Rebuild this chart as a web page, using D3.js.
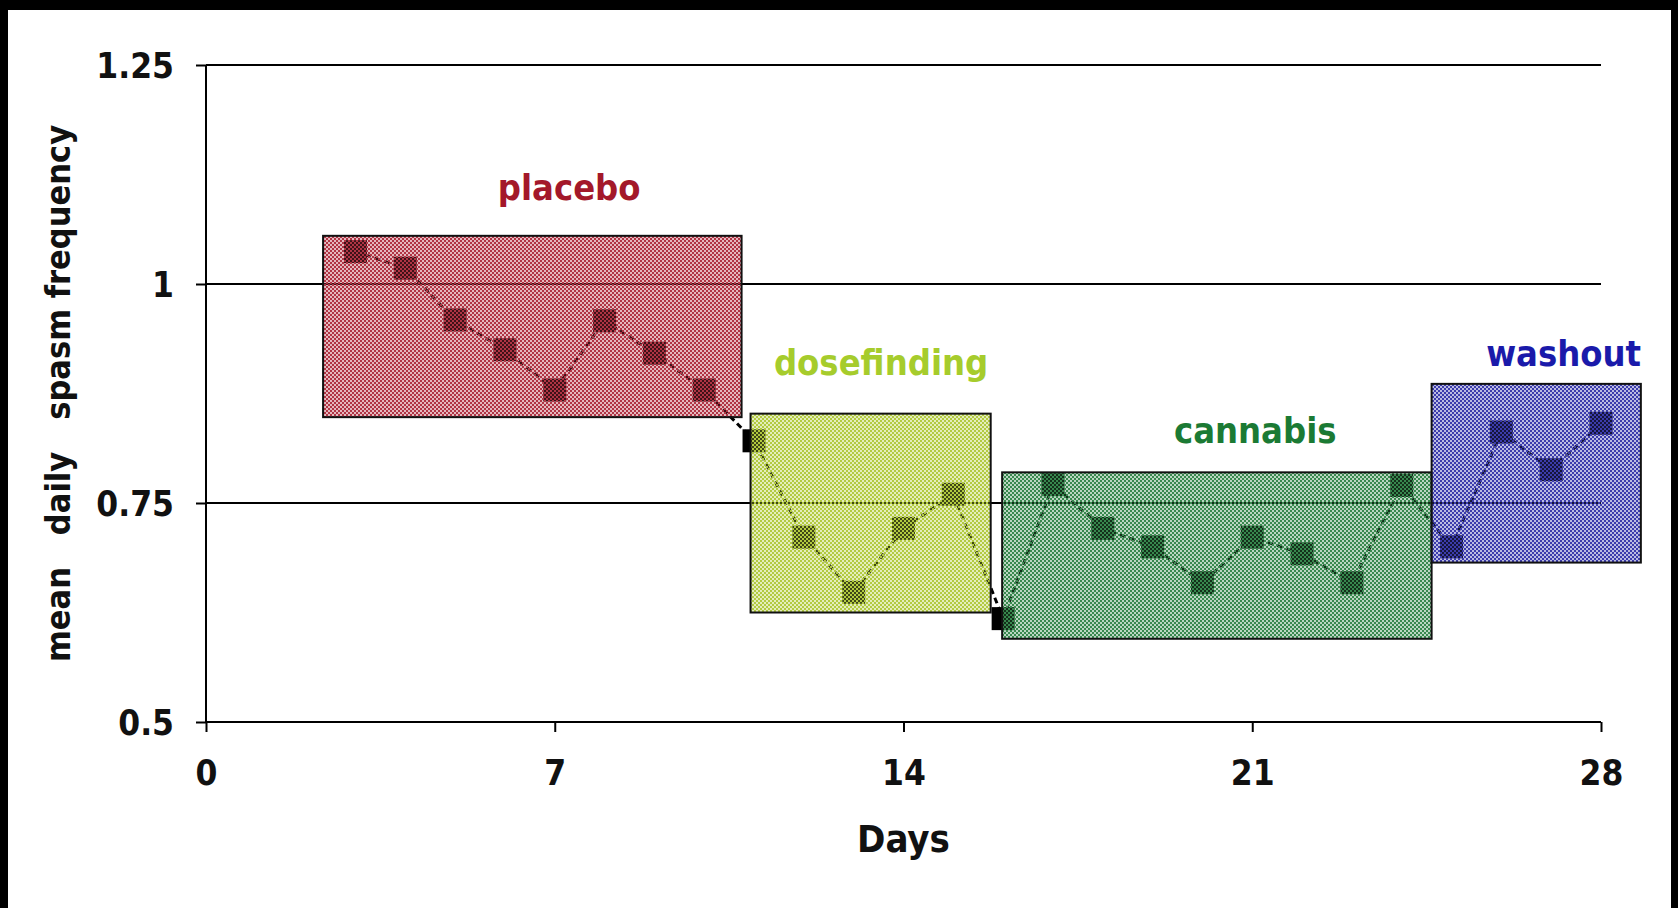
<!DOCTYPE html>
<html>
<head>
<meta charset="utf-8">
<script src="https://cdn.jsdelivr.net/npm/d3@7"></script>
<style>
  html, body { margin: 0; padding: 0; background: #000; }
  svg { display: block; }
  text { font-family: "Liberation Sans Narrow", "DejaVu Sans Condensed", "Open Sans", sans-serif; }
</style>
</head>
<body>
<svg id="chart" width="1678" height="908"></svg>
<script>
// daily means, days 3..28
const days = [3, 4, 5, 6, 7, 8, 9, 10, 11, 12, 13, 14, 15, 16, 17, 18, 19, 20, 21, 22, 23, 24, 25, 26, 27, 28];
const spasms = [1.037, 1.018, 0.959, 0.925, 0.879, 0.958, 0.921, 0.879, 0.821, 0.711, 0.648, 0.721, 0.760,
                0.618, 0.771, 0.721, 0.700, 0.659, 0.711, 0.692, 0.659, 0.770, 0.700, 0.831, 0.788, 0.841];

// treatment phases
const phaseNames = ["placebo", "dosefinding", "cannabis", "washout"];
const phaseStart = [2.35, 10.93, 15.98, 24.6];
const phaseEnd = [10.75, 15.75, 24.6, 28.8];
const phaseLow = [0.848, 0.625, 0.595, 0.682];
const phaseHigh = [1.055, 0.852, 0.785, 0.886];
const labelDay = [7.29, 13.55, 21.06, 27.25];
const labelValue = [1.096, 0.896, 0.818, 0.906];

const xTicks = [0, 7, 14, 21, 28];
const yTicks = [0.5, 0.75, 1, 1.25];

const phaseColors = {
    placebo:     { fill: "#b03444", text: "#a3182a" },
    dosefinding: { fill: "#b2ca40", text: "#a6cc2c" },
    cannabis:    { fill: "#38884e", text: "#1b7a34" },
    washout:     { fill: "#3c3cac", text: "#1a1aaa" }
};

const svg = d3.select("#chart");

// white page inside the black frame
svg.append("rect")
    .attr("x", 8).attr("y", 10)
    .attr("width", 1663).attr("height", 898)
    .attr("fill", "#fff");

const x = d3.scaleLinear().domain([0, 28]).range([206, 1601]);
const y = d3.scaleLinear().domain([0.5, 1.25]).range([722, 65]);

// checker patterns for the phase boxes: half solid, half see-through
const defs = svg.append("defs");
phaseNames.forEach(name => {
    const c = phaseColors[name];
    const p = defs.append("pattern")
        .attr("id", "pat-" + name)
        .attr("patternUnits", "userSpaceOnUse")
        .attr("width", 4).attr("height", 4);
    p.append("rect").attr("width", 4).attr("height", 4)
        .attr("fill", c.fill).attr("fill-opacity", 0.35);
    p.append("rect").attr("x", 0).attr("y", 0).attr("width", 2).attr("height", 2)
        .attr("fill", c.fill);
    p.append("rect").attr("x", 2).attr("y", 2).attr("width", 2).attr("height", 2)
        .attr("fill", c.fill);
});

// gridlines
svg.append("g")
    .selectAll("line")
    .data(yTicks)
    .join("line")
    .attr("x1", x(0)).attr("x2", x(28))
    .attr("y1", d => y(d)).attr("y2", d => y(d))
    .attr("stroke", "#000").attr("stroke-width", 2);

// y axis
const yAxis = svg.append("g")
    .attr("transform", `translate(${x(0)},0)`)
    .call(d3.axisLeft(y).tickValues(yTicks).tickSize(10).tickPadding(22)
        .tickFormat(d => d3.format("")(d)));
yAxis.select(".domain").attr("stroke-width", 2).attr("d", `M-0,${y(1.25)}V${y(0.5)}`);
yAxis.selectAll(".tick line").attr("stroke-width", 2);
yAxis.selectAll(".tick text")
    .attr("font-family", null)
    .attr("font-size", 35).attr("font-weight", "bold").attr("fill", "#111")
    .attr("dy", "0.36em");

// x axis
const xAxis = svg.append("g")
    .attr("transform", `translate(0,${y(0.5)})`)
    .call(d3.axisBottom(x).tickValues(xTicks).tickSize(10).tickPadding(28));
xAxis.select(".domain").attr("stroke-width", 2).attr("d", `M${x(0)},0H${x(28)}`);
xAxis.selectAll(".tick line").attr("stroke-width", 2);
xAxis.selectAll(".tick text")
    .attr("font-family", null)
    .attr("font-size", 35).attr("font-weight", "bold").attr("fill", "#111")
    .attr("dy", "0.71em");

// data line and markers (drawn under the tinted boxes)
const pts = days.map((d, i) => [d, spasms[i]]);
svg.append("path")
    .datum(pts)
    .attr("fill", "none")
    .attr("stroke", "#000")
    .attr("stroke-width", 3)
    .attr("stroke-dasharray", "6,4")
    .attr("d", d3.line().x(d => x(d[0])).y(d => y(d[1])));

const size = 23;
svg.append("g")
    .selectAll("rect")
    .data(pts)
    .join("rect")
    .attr("x", d => x(d[0]) - size / 2)
    .attr("y", d => y(d[1]) - size / 2)
    .attr("width", size).attr("height", size)
    .attr("fill", "#000");

// phase boxes
svg.append("g")
    .selectAll("rect")
    .data(phaseNames)
    .join("rect")
    .attr("x", (d, i) => x(phaseStart[i]))
    .attr("y", (d, i) => y(phaseHigh[i]))
    .attr("width", (d, i) => x(phaseEnd[i]) - x(phaseStart[i]))
    .attr("height", (d, i) => y(phaseLow[i]) - y(phaseHigh[i]))
    .attr("fill", d => `url(#pat-${d})`)
    .attr("stroke", "#111")
    .attr("stroke-width", 2);

// phase labels
svg.append("g")
    .selectAll("text")
    .data(phaseNames)
    .join("text")
    .attr("x", (d, i) => x(labelDay[i]))
    .attr("y", (d, i) => y(labelValue[i]))
    .attr("text-anchor", "middle")
    .attr("font-size", 36)
    .attr("font-weight", "bold")
    .attr("fill", d => phaseColors[d].text)
    .text(d => d);

// axis titles
svg.append("text")
    .attr("x", x(14))
    .attr("y", 852)
    .attr("text-anchor", "middle")
    .attr("font-size", 38)
    .attr("font-weight", "bold")
    .attr("fill", "#111")
    .text("Days");

svg.append("text")
    .attr("transform", `translate(70,${(y(0.5) + y(1.25)) / 2}) rotate(-90)`)
    .attr("text-anchor", "middle")
    .attr("font-size", 34)
    .attr("font-weight", "bold")
    .attr("fill", "#111")
    .style("white-space", "pre")
    .text("mean   daily   spasm frequency");
</script>
</body>
</html>
